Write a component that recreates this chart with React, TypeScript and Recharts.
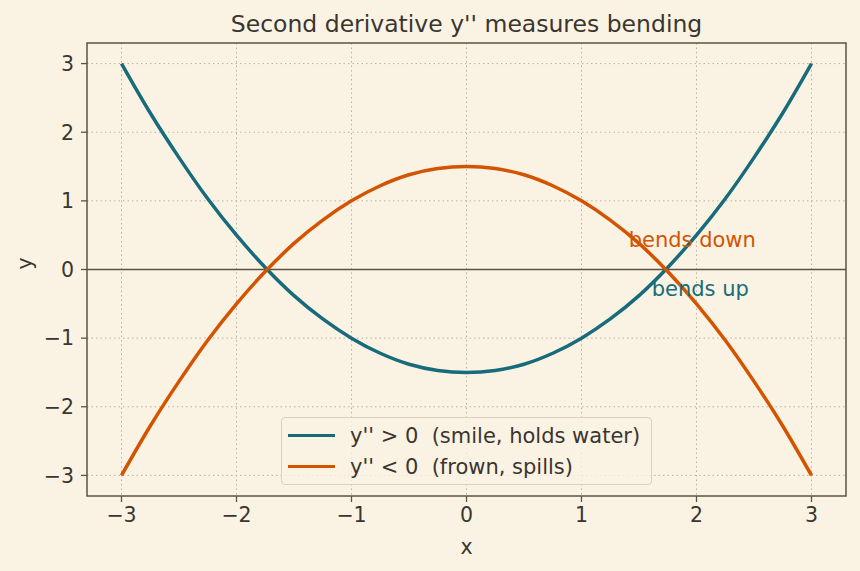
import React from 'react';
import {
  LineChart, Line, XAxis, YAxis, CartesianGrid,
  ReferenceLine, ReferenceArea, ReferenceDot, Label
} from 'recharts';

const xValues = [-3, -2.75, -2.5, -2.25, -2, -1.75, -1.5, -1.25, -1, -0.75, -0.5, -0.25, 0,
  0.25, 0.5, 0.75, 1, 1.25, 1.5, 1.75, 2, 2.25, 2.5, 2.75, 3];
const smileValues = [3, 2.28, 1.63, 1.03, 0.5, 0.03, -0.38, -0.72, -1, -1.22, -1.38, -1.47, -1.5,
  -1.47, -1.38, -1.22, -1, -0.72, -0.38, 0.03, 0.5, 1.03, 1.63, 2.28, 3];
const frownValues = [-3, -2.28, -1.63, -1.03, -0.5, -0.03, 0.38, 0.72, 1, 1.22, 1.38, 1.47, 1.5,
  1.47, 1.38, 1.22, 1, 0.72, 0.38, -0.03, -0.5, -1.03, -1.63, -2.28, -3];
const xTicks = [-3, -2, -1, 0, 1, 2, 3];
const yTicks = [-3, -2, -1, 0, 1, 2, 3];
const seriesNames = ["y'' > 0  (smile, holds water)", "y'' < 0  (frown, spills)"];

const data = xValues.map((x, i) => ({ x, smile: smileValues[i], frown: frownValues[i] }));

const BG = '#faf3e3';
const TEAL = '#176b7a';
const ORANGE = '#d35400';
const INK = '#3b3530';
const FRAME = '#5e5343';
const FONT = '"DejaVu Sans", sans-serif';
const FS = 20.5;
const FS_TEXT = 21;

const fmt = (v: number) => String(v).replace('-', '\u2212');

const LegendBox = () => (
  <div style={{
    position: 'absolute', left: 281, top: 417, boxSizing: 'border-box', width: 371, height: 68,
    background: 'rgba(250,243,227,0.8)', border: '1.5px solid #d8d0c2', borderRadius: 4,
    padding: '2px 0 0 6px', fontFamily: FONT, fontSize: FS_TEXT, color: INK
  }}>
    {seriesNames.map((name, i) => (
      <div key={name} style={{ display: 'flex', alignItems: 'center', height: 31 }}>
        <div style={{ width: 47, height: 3.4, background: i === 0 ? TEAL : ORANGE, marginRight: 15 }} />
        <span style={{ whiteSpace: 'pre' }}>{name}</span>
      </div>
    ))}
  </div>
);

export default function App() {
  return (
    <div style={{ position: 'fixed', left: 0, top: 0, width: 860, height: 571, background: BG }}>
      <div style={{
        position: 'absolute', left: 87, width: 759, top: 10, textAlign: 'center',
        fontFamily: FONT, fontSize: 23.5, color: INK, lineHeight: '28px'
      }}>
        Second derivative y'' measures bending
      </div>
      <LineChart width={860} height={571} data={data}
        margin={{ top: 43, right: 14, bottom: 17, left: 0 }}
        style={{ fontFamily: FONT }}>
        <CartesianGrid stroke="#b9b1a2" strokeDasharray="1.5 3" strokeWidth={1}
          horizontalValues={yTicks} verticalValues={xTicks} />
        <XAxis dataKey="x" type="number" domain={[-3.3, 3.3]} ticks={xTicks}
          allowDataOverflow tickFormatter={fmt} height={58} tickMargin={5}
          axisLine={false} tickLine={{ stroke: FRAME, strokeWidth: 1.3 }} tickSize={6}
          tick={{ fill: INK, fontSize: FS }}>
          <Label value="x" position="insideBottom" offset={0} fill={INK} fontSize={FS} />
        </XAxis>
        <YAxis type="number" domain={[-3.3, 3.3]} ticks={yTicks} allowDataOverflow
          tickFormatter={fmt} width={87} tickMargin={7}
          axisLine={false} tickLine={{ stroke: FRAME, strokeWidth: 1.3 }} tickSize={6}
          tick={{ fill: INK, fontSize: FS }}>
          <Label value="y" angle={-90} position="insideLeft" offset={25} fill={INK} fontSize={FS} />
        </YAxis>
        <ReferenceLine y={0} stroke={FRAME} strokeWidth={1.3} />
        <Line dataKey="smile" type="monotone" stroke={TEAL} strokeWidth={3.5} dot={false}
          isAnimationActive={false} />
        <Line dataKey="frown" type="monotone" stroke={ORANGE} strokeWidth={3.5} dot={false}
          isAnimationActive={false} />
        <ReferenceDot x={1.41} y={0.44} r={0} fill="none" stroke="none"
          label={{ value: 'bends down', position: 'right', offset: 0, fill: ORANGE, fontSize: FS_TEXT }} />
        <ReferenceDot x={1.61} y={-0.28} r={0} fill="none" stroke="none"
          label={{ value: 'bends up', position: 'right', offset: 0, fill: TEAL, fontSize: FS_TEXT }} />
        <ReferenceArea x1={-3.3} x2={3.3} y1={-3.3} y2={3.3} fill="none" stroke={FRAME}
          strokeWidth={1.5} ifOverflow="visible" />
      </LineChart>
      <LegendBox />
    </div>
  );
}
